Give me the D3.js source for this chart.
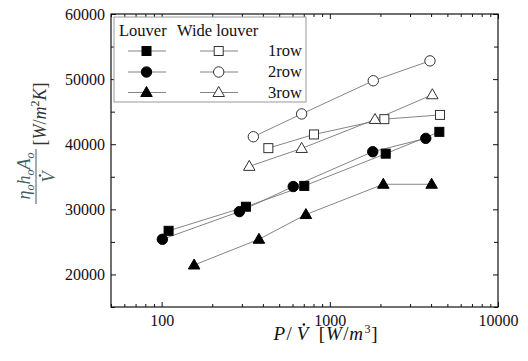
<!DOCTYPE html>
<html><head><meta charset="utf-8">
<script src="https://cdn.jsdelivr.net/npm/d3@7"></script>
<style>
body{margin:0;background:#fff}
svg{display:block}
svg text{font-family:"Liberation Serif","DejaVu Serif",serif !important;fill:#111}
</style>
</head><body>
<svg id="chart" width="528" height="361"></svg>
<script>
// Specific pressure drop P/V̇ [W/m³] (x) vs. heat transfer per volume (y)
const louver1X = [110, 317, 705, 2150, 4480];
const louver1Y = [26700, 30400, 33600, 38550, 41900];
const louver2X = [101, 290, 606, 1800, 3720];
const louver2Y = [25400, 29650, 33500, 38850, 40900];
const louver3X = [156, 379, 721, 2080, 4030];
const louver3Y = [21450, 25400, 29200, 33850, 33850];
const wide1X = [431, 805, 2110, 4520];
const wide1Y = [39400, 41500, 43850, 44500];
const wide2X = [351, 680, 1813, 3940];
const wide2Y = [41150, 44650, 49750, 52800];
const wide3X = [332, 680, 1856, 4070];
const wide3Y = [36600, 39350, 43800, 47600];

const rowLabels = ["1row", "2row", "3row"];
const groupLabels = ["Louver", "Wide louver"];
const xMajorTicks = [100, 1000, 10000];
const xMinorTicks = [50, 60, 70, 80, 90, 200, 300, 400, 500, 600, 700, 800, 900,
                     2000, 3000, 4000, 5000, 6000, 7000, 8000, 9000];
const yMajorTicks = [20000, 30000, 40000, 50000, 60000];
const yMinorTicks = [15000, 25000, 35000, 45000, 55000];

const FONT = '"Liberation Serif","DejaVu Serif",serif';
const svg = d3.select("#chart").attr("font-family", FONT);
const L = 111, R = 498, T = 14, B = 307;

const x = d3.scaleLog().domain([50, 10000]).range([L, R]);
const y = d3.scaleLinear().domain([15000, 60000]).range([B, T]);

// axes: ticks point inward on all four sides
function styleAxis(g) {
  g.attr("font-family", FONT);
  g.select(".domain").remove();
  g.selectAll(".tick line").attr("stroke", "#111").attr("stroke-width", 1);
  g.selectAll(".tick text").style("font-size", "16px").style("font-family", FONT).attr("fill", "#111");
}
svg.append("g").attr("transform", `translate(0,${B})`)
  .call(d3.axisBottom(x).tickValues(xMajorTicks).tickFormat(d3.format("d")).tickSize(-5).tickPadding(8))
  .call(styleAxis);
svg.append("g").attr("transform", `translate(0,${B})`)
  .call(d3.axisBottom(x).tickValues(xMinorTicks).tickFormat("").tickSize(-3))
  .call(styleAxis);
svg.append("g").attr("transform", `translate(0,${T})`)
  .call(d3.axisTop(x).tickValues(xMajorTicks).tickFormat("").tickSize(-5))
  .call(styleAxis);
svg.append("g").attr("transform", `translate(0,${T})`)
  .call(d3.axisTop(x).tickValues(xMinorTicks).tickFormat("").tickSize(-3))
  .call(styleAxis);
svg.append("g").attr("transform", `translate(${L},0)`)
  .call(d3.axisLeft(y).tickValues(yMajorTicks).tickFormat(d3.format("d")).tickSize(-5).tickPadding(6))
  .call(styleAxis);
svg.append("g").attr("transform", `translate(${L},0)`)
  .call(d3.axisLeft(y).tickValues(yMinorTicks).tickFormat("").tickSize(-4))
  .call(styleAxis);
svg.append("g").attr("transform", `translate(${R},0)`)
  .call(d3.axisRight(y).tickValues(yMajorTicks).tickFormat("").tickSize(-5))
  .call(styleAxis);
svg.append("g").attr("transform", `translate(${R},0)`)
  .call(d3.axisRight(y).tickValues(yMinorTicks).tickFormat("").tickSize(-4))
  .call(styleAxis);

svg.append("rect").attr("x", L).attr("y", T).attr("width", R - L).attr("height", B - T)
  .attr("fill", "none").attr("stroke", "#111").attr("stroke-width", 1.2);

// marker shapes
function drawMarker(g, shape, filled, cx, cy) {
  const fill = filled ? "#000" : "#fff";
  const stroke = filled ? "#000" : "#333";
  if (shape === "square") {
    g.append("rect").attr("x", cx - 4.5).attr("y", cy - 4.5).attr("width", 9).attr("height", 9)
      .attr("fill", fill).attr("stroke", stroke).attr("stroke-width", 1);
  } else if (shape === "circle") {
    g.append("circle").attr("cx", cx).attr("cy", cy).attr("r", 5.2)
      .attr("fill", fill).attr("stroke", stroke).attr("stroke-width", 1);
  } else {
    const h = 10, w = 11.5;
    g.append("path")
      .attr("d", `M${cx},${cy - h * 0.6}L${cx + w / 2},${cy + h * 0.4}L${cx - w / 2},${cy + h * 0.4}Z`)
      .attr("fill", fill).attr("stroke", stroke).attr("stroke-width", 1);
  }
}

const series = [
  {xs: wide1X, ys: wide1Y, shape: "square", filled: false},
  {xs: wide3X, ys: wide3Y, shape: "triangle", filled: false},
  {xs: wide2X, ys: wide2Y, shape: "circle", filled: false},
  {xs: louver3X, ys: louver3Y, shape: "triangle", filled: true},
  {xs: louver1X, ys: louver1Y, shape: "square", filled: true},
  {xs: louver2X, ys: louver2Y, shape: "circle", filled: true}
];

const line = d3.line().x(d => x(d[0])).y(d => y(d[1]));
series.forEach(s => {
  const pts = s.xs.map((v, i) => [v, s.ys[i]]);
  svg.append("path").attr("d", line(pts)).attr("fill", "none")
    .attr("stroke", "#777").attr("stroke-width", 0.9);
});
series.forEach(s => {
  const g = svg.append("g");
  s.xs.forEach((v, i) => drawMarker(g, s.shape, s.filled, x(v), y(s.ys[i])));
});

// legend
const lg = svg.append("g");
lg.append("rect").attr("x", 114).attr("y", 17).attr("width", 192).attr("height", 85)
  .attr("fill", "#fff").attr("stroke", "#999").attr("stroke-width", 1);
lg.append("text").attr("x", 119).attr("y", 36).style("font-size", "16.5px").text(groupLabels[0]);
lg.append("text").attr("x", 177).attr("y", 36).style("font-size", "16.5px").text(groupLabels[1]);
const shapes = ["square", "circle", "triangle"];
const rowY = [51, 72, 92.5];
rowLabels.forEach((lab, i) => {
  const ry = rowY[i];
  lg.append("line").attr("x1", 128).attr("x2", 166).attr("y1", ry).attr("y2", ry)
    .attr("stroke", "#777").attr("stroke-width", 0.9);
  drawMarker(lg, shapes[i], true, 146.5, ry);
  lg.append("line").attr("x1", 200).attr("x2", 238).attr("y1", ry).attr("y2", ry)
    .attr("stroke", "#777").attr("stroke-width", 0.9);
  drawMarker(lg, shapes[i], false, 218.7, ry);
  lg.append("text").attr("x", 302).attr("y", ry + 5).attr("text-anchor", "end")
    .style("font-size", "16.5px").text(lab);
});

// x axis title: P/V̇ [W/m³], laid out piece by piece
const xPieces = [
  {t: "P", it: true}, {t: "/"}, {gap: 4}, {t: "V", it: true, dot: true}, {gap: 9},
  {t: "["}, {t: "W", it: true}, {t: "/"}, {t: "m", it: true}, {t: "3", sup: true}, {t: "]"}
];
const xt = svg.append("g");
let cur = 0;
const dots = [];
xPieces.forEach(p => {
  if (p.gap) { cur += p.gap; return; }
  const el = xt.append("text").attr("x", cur).attr("y", p.sup ? -7 : 0)
    .style("font-size", p.sup ? "12px" : "19px")
    .style("font-style", p.it ? "italic" : "normal").text(p.t);
  const w = el.node().getComputedTextLength();
  if (p.dot) dots.push(cur + w * 0.62);
  cur += w + (p.it ? 1.5 : 0.8);
});
dots.forEach(dx => xt.append("circle").attr("cx", dx).attr("cy", -15.5).attr("r", 1.3).attr("fill", "#111"));
xt.attr("transform", `translate(${326 - cur / 2},340)`);

// y axis title: fraction η_o h_o A_o / V̇ followed by [W/m²K]
const tealInk = "#3f5f5f";
const yg = svg.append("g");
const num = yg.append("text").attr("transform", "translate(30,176) rotate(-90)")
  .attr("text-anchor", "middle").style("font-size", "18px").style("font-style", "italic")
  .style("fill", tealInk);
[["η", 0], ["o", 4], ["h", -4], ["o", 4], ["A", -4], ["o", 4]].forEach(([t, dy], i) => {
  const ts = num.append("tspan").attr("dy", dy).text(t);
  if (i % 2 === 1) ts.style("font-size", "12px");
});
yg.append("line").attr("x1", 36).attr("x2", 36).attr("y1", 149).attr("y2", 204)
  .attr("stroke", tealInk).attr("stroke-width", 1);
const den = yg.append("g").attr("transform", "translate(55,177) rotate(-90)");
den.append("text").attr("text-anchor", "middle").style("font-size", "18px")
  .style("font-style", "italic").style("fill", tealInk).text("V");
den.append("circle").attr("cx", 1.5).attr("cy", -15).attr("r", 1.3).attr("fill", tealInk);

const unit = yg.append("text").attr("transform", "translate(46,114) rotate(-90)")
  .attr("text-anchor", "middle").style("font-size", "18px").style("fill", "#333");
unit.append("tspan").text("[");
unit.append("tspan").style("font-style", "italic").text("W");
unit.append("tspan").text("/");
unit.append("tspan").style("font-style", "italic").text("m");
unit.append("tspan").attr("dy", -7).style("font-size", "12px").text("2");
unit.append("tspan").attr("dy", 7).style("font-style", "italic").text("K");
unit.append("tspan").text("]");
</script>
</body></html>
